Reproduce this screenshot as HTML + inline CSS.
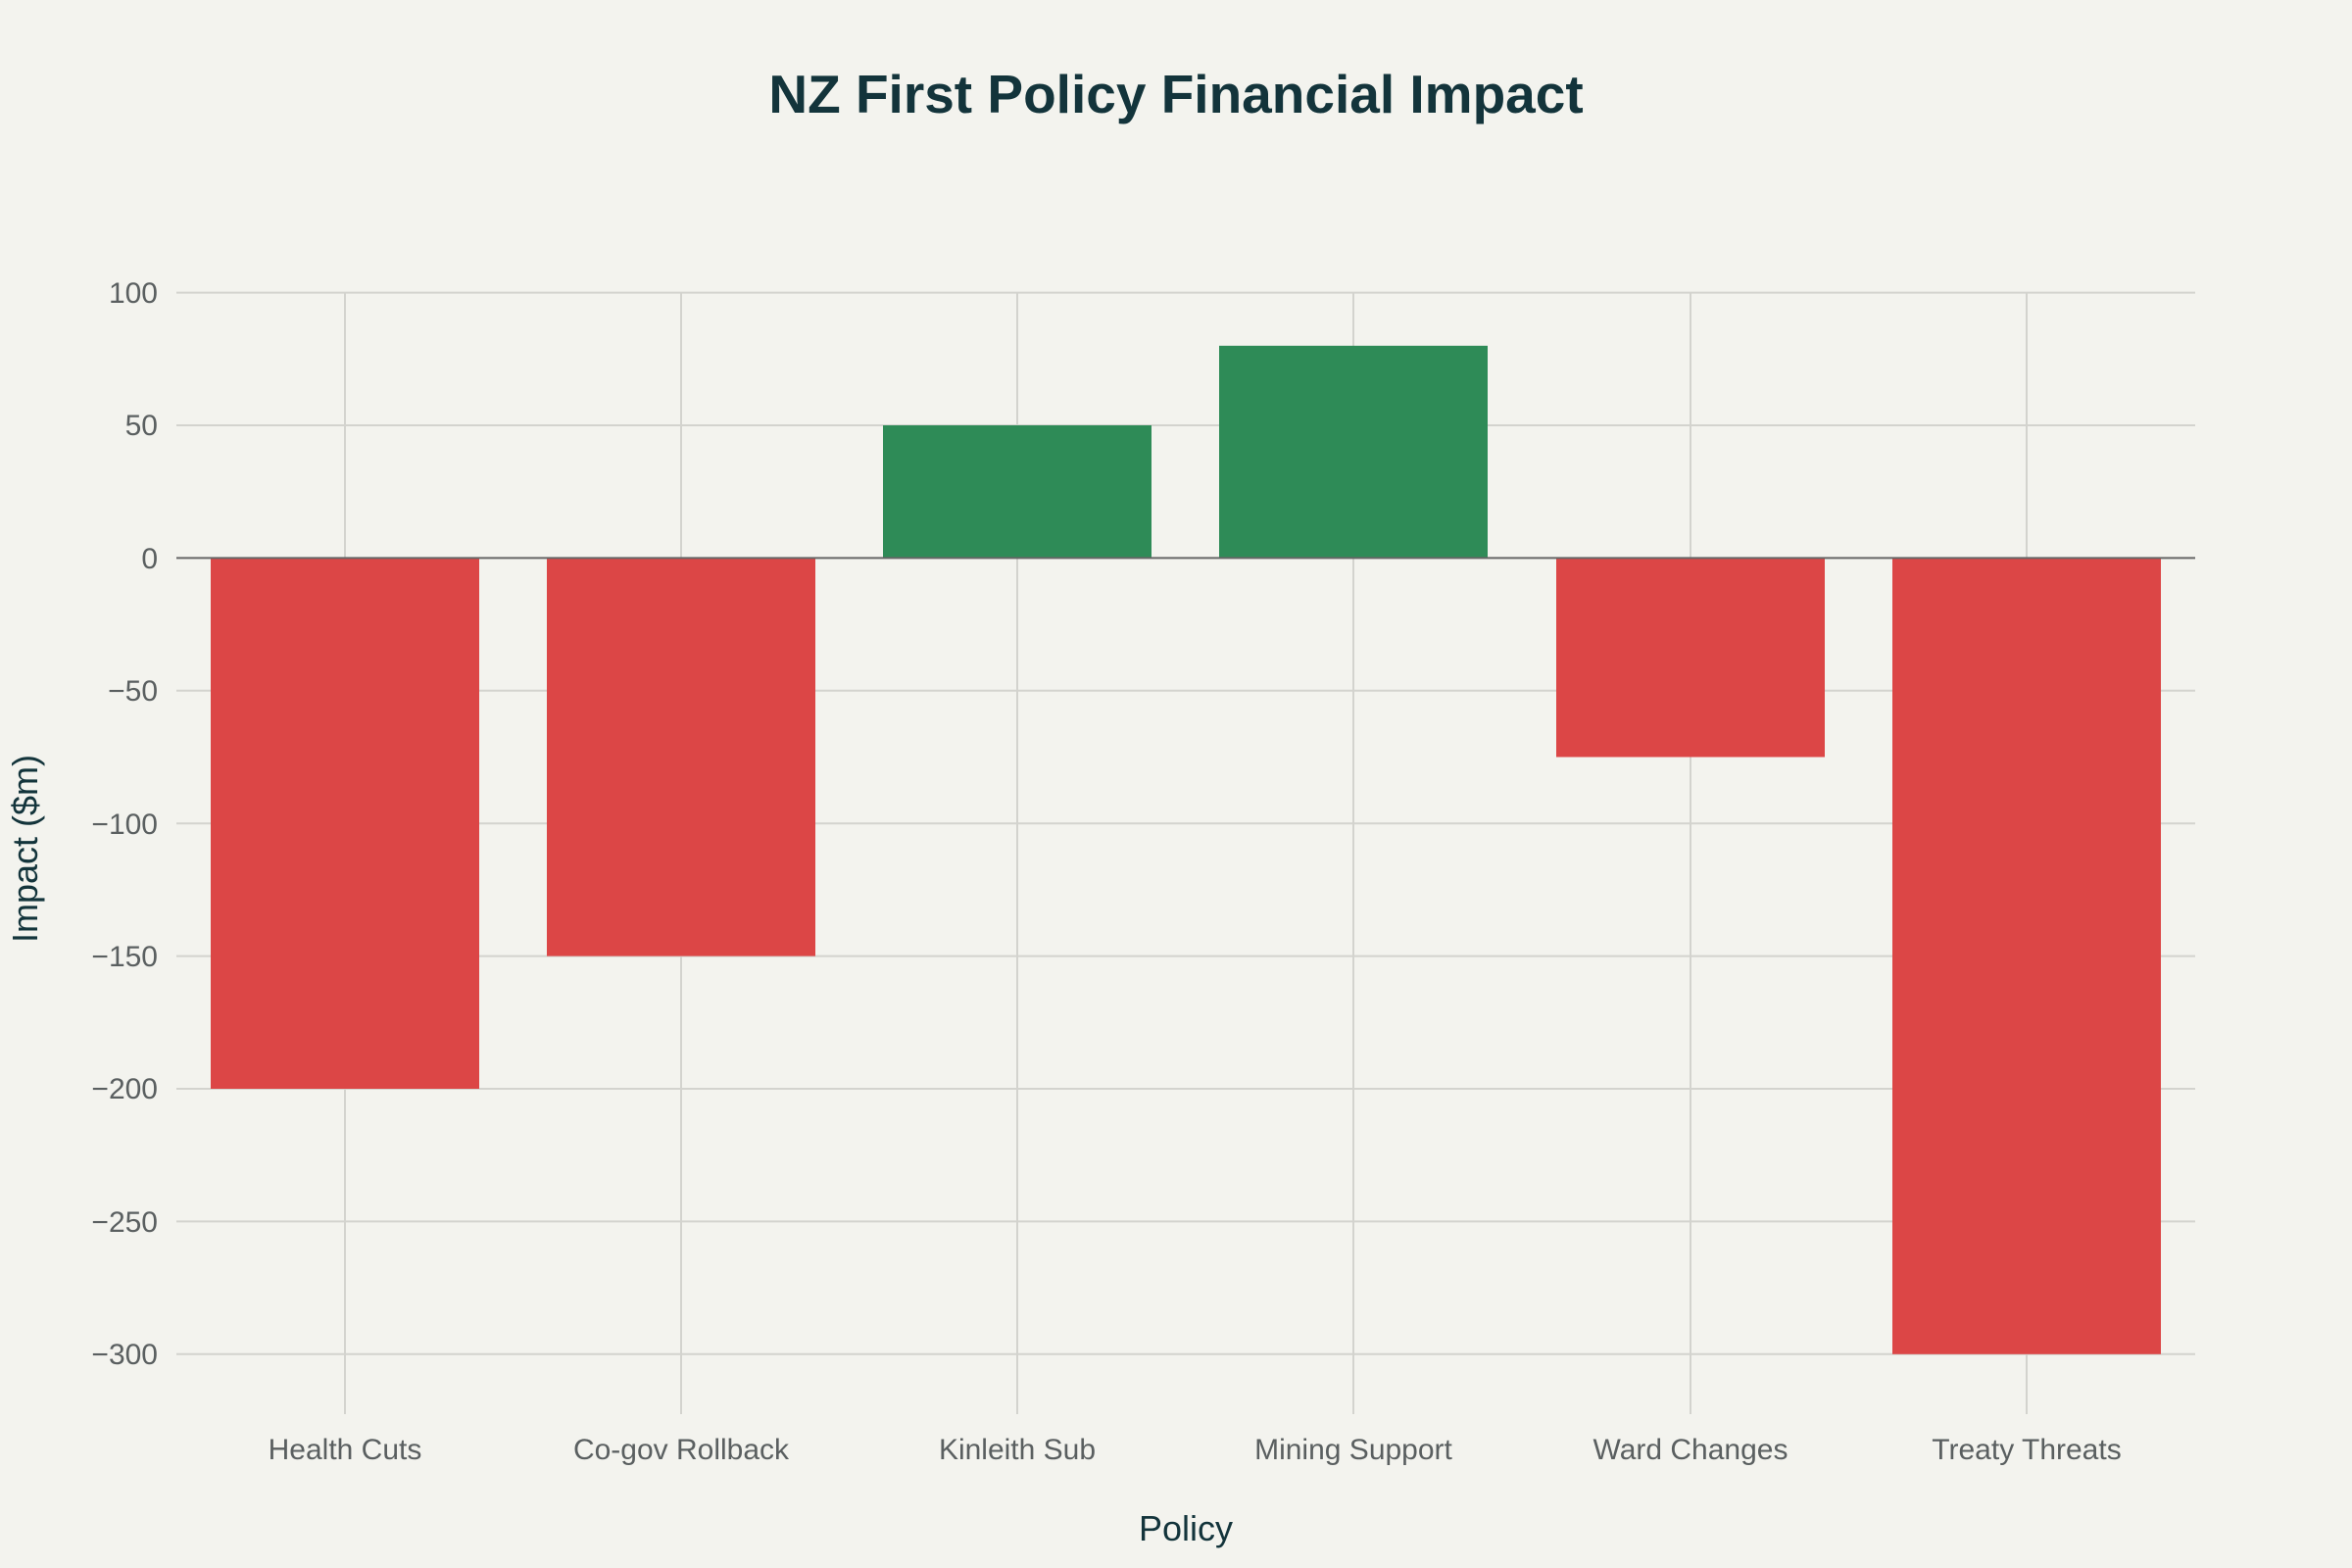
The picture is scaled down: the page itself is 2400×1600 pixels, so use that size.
<!DOCTYPE html>
<html><head><meta charset="utf-8"><style>
html,body{margin:0;padding:0;background:#f3f3ee;}
svg{display:block;font-family:"Liberation Sans",sans-serif;}
</style></head><body>
<svg width="2400" height="1600" viewBox="0 0 2400 1600" xmlns="http://www.w3.org/2000/svg">
<rect width="2400" height="1600" fill="#f3f3ee"/>
<text x="1200" y="115" text-anchor="middle" font-size="55" font-weight="bold" fill="#13343b">NZ First Policy Financial Impact</text>
<g stroke="#d3d3ce" stroke-width="2">
<line x1="180" y1="298.6" x2="2240" y2="298.6"/>
<line x1="180" y1="434" x2="2240" y2="434"/>
<line x1="180" y1="704.8" x2="2240" y2="704.8"/>
<line x1="180" y1="840.2" x2="2240" y2="840.2"/>
<line x1="180" y1="975.6" x2="2240" y2="975.6"/>
<line x1="180" y1="1111" x2="2240" y2="1111"/>
<line x1="180" y1="1246.4" x2="2240" y2="1246.4"/>
<line x1="180" y1="1381.8" x2="2240" y2="1381.8"/>
<line x1="352" y1="298" x2="352" y2="1443"/>
<line x1="695" y1="298" x2="695" y2="1443"/>
<line x1="1038" y1="298" x2="1038" y2="1443"/>
<line x1="1381" y1="298" x2="1381" y2="1443"/>
<line x1="1725" y1="298" x2="1725" y2="1443"/>
<line x1="2068" y1="298" x2="2068" y2="1443"/>
</g>
<g>
<rect x="215" y="569.4" width="274" height="541.6" fill="#dc4646"/>
<rect x="558" y="569.4" width="274" height="406.2" fill="#dc4646"/>
<rect x="901" y="434" width="274" height="135.4" fill="#2e8b57"/>
<rect x="1244" y="352.8" width="274" height="216.6" fill="#2e8b57"/>
<rect x="1588" y="569.4" width="274" height="203.1" fill="#dc4646"/>
<rect x="1931" y="569.4" width="274" height="812.4" fill="#dc4646"/>
</g>
<line x1="180" y1="569.4" x2="2240" y2="569.4" stroke="#666" stroke-width="2"/>
<g font-size="30" fill="#5a5f60" text-anchor="end">
<text x="161" y="309">100</text>
<text x="161" y="444">50</text>
<text x="161" y="580">0</text>
<text x="161" y="715">−50</text>
<text x="161" y="851">−100</text>
<text x="161" y="986">−150</text>
<text x="161" y="1121">−200</text>
<text x="161" y="1257">−250</text>
<text x="161" y="1392">−300</text>
</g>
<g font-size="30" fill="#5a5f60" text-anchor="middle">
<text x="352" y="1489">Health Cuts</text>
<text x="695" y="1489">Co-gov Rollback</text>
<text x="1038" y="1489">Kinleith Sub</text>
<text x="1381" y="1489">Mining Support</text>
<text x="1725" y="1489">Ward Changes</text>
<text x="2068" y="1489">Treaty Threats</text>
</g>
<text x="1210" y="1572" text-anchor="middle" font-size="36" fill="#13343b">Policy</text>
<text transform="translate(38,866) rotate(-90)" text-anchor="middle" font-size="36" fill="#13343b">Impact ($m)</text>
</svg>
</body></html>
